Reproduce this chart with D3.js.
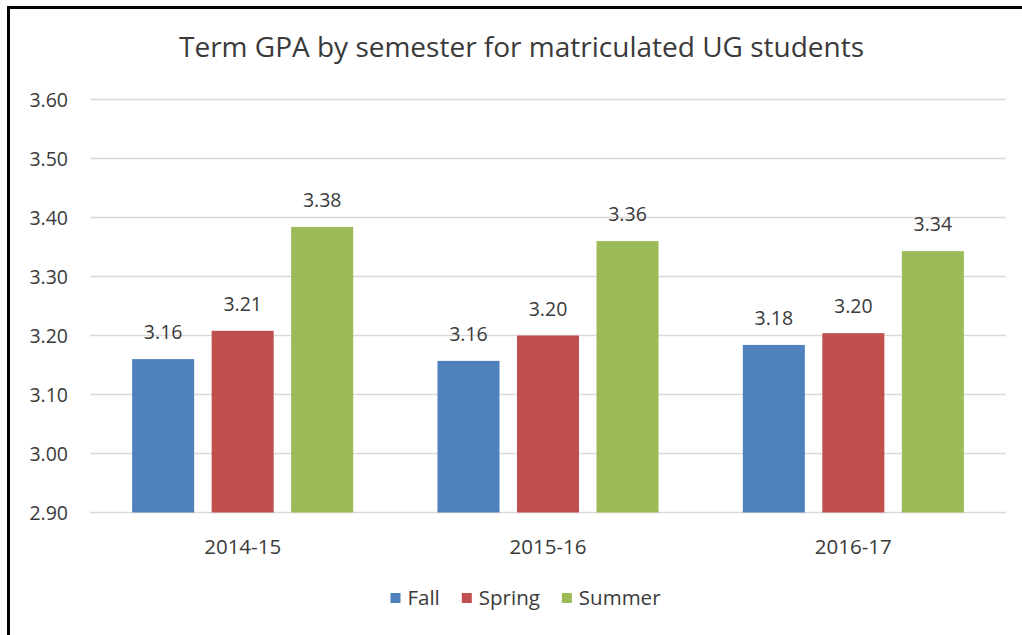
<!DOCTYPE html>
<html>
<head>
<meta charset="utf-8">
<script src="https://cdn.jsdelivr.net/npm/d3@7"></script>
<style>
  html, body { margin: 0; padding: 0; background: #ffffff; }
  svg { display: block; }
  text { font-family: "Open Sans", "Noto Sans", sans-serif; fill: #3a3a3a; }
</style>
</head>
<body>
<svg id="chart" width="1022" height="635"></svg>
<script>
const title = "Term GPA by semester for matriculated UG students";
const categories = ["2014-15", "2015-16", "2016-17"];
const seriesNames = ["Fall", "Spring", "Summer"];
const fallValues = [3.160, 3.157, 3.184];
const springValues = [3.208, 3.200, 3.204];
const summerValues = [3.384, 3.360, 3.343];
const yTicks = [2.90, 3.00, 3.10, 3.20, 3.30, 3.40, 3.50, 3.60];
const colors = ["#4F81BD", "#C0504D", "#9BBB59"];

const seriesValues = [fallValues, springValues, summerValues];
const data = categories.map((c, i) => ({
  category: c,
  values: seriesNames.map((s, j) => ({ series: s, value: seriesValues[j][i] }))
}));

const svg = d3.select("#chart");
const W = 1022, H = 635;

// frame (partially cropped border)
svg.append("path")
  .attr("d", `M8.5,${H} L8.5,7.5 L${W},7.5`)
  .attr("fill", "none")
  .attr("stroke", "#000")
  .attr("stroke-width", 3);

const plot = { left: 90, right: 1006, top: 99.5, bottom: 512.5 };

const x0 = d3.scaleBand().domain(categories).range([plot.left, plot.right]).padding(0);
const x1 = d3.scaleBand().domain(seriesNames).range([0, x0.bandwidth()])
  .paddingInner(0.22).paddingOuter(0.53);
const y = d3.scaleLinear().domain([2.9, 3.6]).range([plot.bottom, plot.top]);
const color = d3.scaleOrdinal().domain(seriesNames).range(colors);

// gridlines
const yAxis = d3.axisLeft(y).tickValues(yTicks).tickSize(0).tickFormat(d3.format(".2f"));
const gy = svg.append("g").attr("transform", `translate(${plot.left},0)`);
gy.selectAll("line.grid").data(yTicks).enter().append("line")
  .attr("class", "grid")
  .attr("x1", 0).attr("x2", plot.right - plot.left)
  .attr("y1", d => y(d)).attr("y2", d => y(d))
  .attr("stroke", "#D9D9D9").attr("stroke-width", 1.3);
const axisG = svg.append("g").attr("transform", `translate(${plot.left},0)`).call(yAxis);
axisG.select(".domain").remove();
axisG.selectAll("text")
  .attr("x", -22)
  .attr("dy", "0.36em")
  .style("font-size", "19.5px")
  .style("fill", "#3a3a3a");

// bars
const groups = svg.append("g").selectAll("g").data(data).enter().append("g")
  .attr("transform", d => `translate(${x0(d.category)},0)`);
groups.selectAll("rect").data(d => d.values).enter().append("rect")
  .attr("x", d => x1(d.series))
  .attr("width", x1.bandwidth())
  .attr("y", d => y(d.value))
  .attr("height", d => y(2.9) - y(d.value))
  .attr("fill", d => color(d.series));
groups.selectAll("text.val").data(d => d.values).enter().append("text")
  .attr("class", "val")
  .attr("x", d => x1(d.series) + x1.bandwidth() / 2)
  .attr("y", d => y(d.value) - 20)
  .attr("text-anchor", "middle")
  .style("font-size", "19.5px")
  .text(d => d3.format(".2f")(d.value));

// category axis
const xAxis = d3.axisBottom(x0).tickSize(0).tickPadding(0);
const gx = svg.append("g").attr("transform", `translate(0,${plot.bottom})`).call(xAxis);
gx.select(".domain").remove();
gx.selectAll("text")
  .attr("y", 41)
  .attr("dy", 0)
  .style("font-size", "20.5px")
  .style("fill", "#3a3a3a");

// title
svg.append("text")
  .attr("x", 521.5)
  .attr("y", 57)
  .attr("text-anchor", "middle")
  .style("font-size", "28px")
  .text(title);

// legend
const legend = svg.append("g");
const items = legend.selectAll("g").data(seriesNames).enter().append("g");
items.append("rect").attr("width", 10).attr("height", 10).attr("y", 593)
  .attr("fill", d => color(d));
items.append("text").attr("x", 17).attr("y", 605)
  .style("font-size", "20.5px").text(d => d);
const widths = [];
items.each(function () {
  const w = d3.select(this).select("text").node().getComputedTextLength();
  widths.push(17 + w);
});
const gap = 22;
const total = d3.sum(widths) + gap * (widths.length - 1);
let cx = 525.5 - total / 2;
items.attr("transform", (d, i) => {
  const t = `translate(${cx},0)`;
  cx += widths[i] + gap;
  return t;
});
</script>
</body>
</html>
